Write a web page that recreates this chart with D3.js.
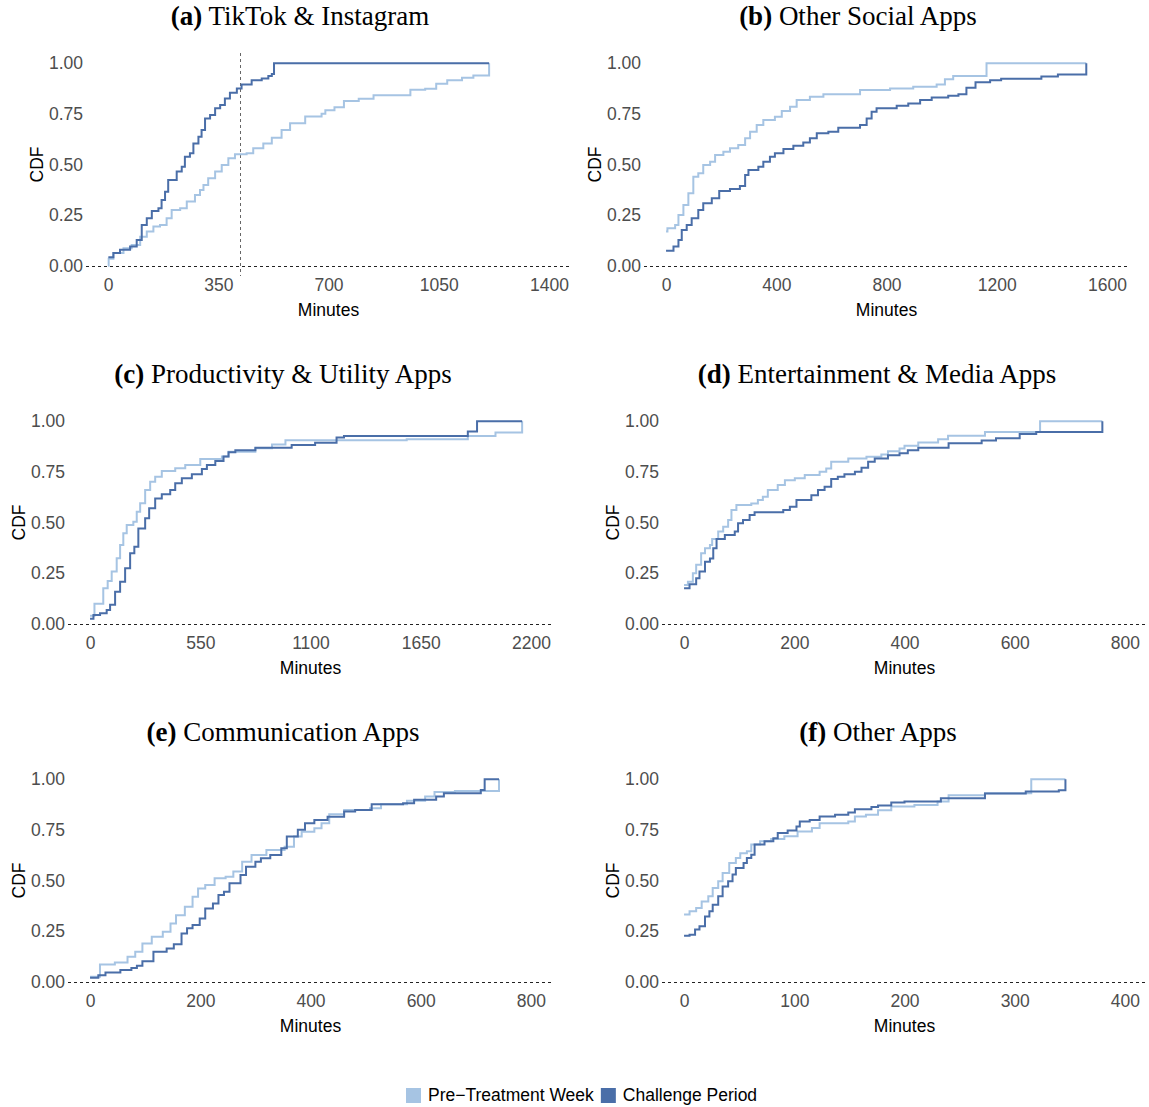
<!DOCTYPE html>
<html>
<head>
<meta charset="utf-8">
<script src="https://cdn.jsdelivr.net/npm/d3@7"></script>
<style>
  body { margin: 0; background: #fff; }
  svg { display: block; }
</style>
</head>
<body>
<svg id="chart" width="1149" height="1107"></svg>
<script>
// ECDF step points: [minutes, cdf] (value holds from that minute on)
var tiktokPre = [[0, 0], [2, 0.035], [17, 0.063], [49, 0.087], [75, 0.103], [102, 0.144], [123, 0.169], [144, 0.194],
    [165, 0.202], [186, 0.235], [202, 0.276], [229, 0.284], [250, 0.317], [276, 0.35], [292, 0.374], [303, 0.399],
    [318, 0.432], [340, 0.465], [361, 0.498], [382, 0.531], [403, 0.55], [440, 0.555], [461, 0.58], [493, 0.604],
    [520, 0.632], [551, 0.67], [578, 0.703], [626, 0.737], [678, 0.75], [690, 0.767], [719, 0.783], [749, 0.813],
    [796, 0.824], [843, 0.841], [960, 0.869], [1007, 0.874], [1042, 0.898], [1077, 0.915], [1124, 0.928],
    [1160, 0.939], [1210, 1.0]];
var tiktokChallenge = [[1, 0.043], [17, 0.063], [38, 0.079], [70, 0.095], [91, 0.128], [107, 0.202], [123, 0.235],
    [139, 0.271], [160, 0.284], [170, 0.325], [181, 0.366], [191, 0.424], [218, 0.465], [234, 0.489], [244, 0.538],
    [260, 0.555], [271, 0.604], [287, 0.637], [297, 0.67], [308, 0.727], [324, 0.744], [340, 0.777], [356, 0.793],
    [371, 0.826], [387, 0.854], [409, 0.875], [424, 0.895], [456, 0.916], [488, 0.924], [509, 0.937], [520, 0.946],
    [527, 1.0], [1210, 1.0]];

var socialPre = [[0, 0.17], [5, 0.185], [33, 0.202], [45, 0.251], [63, 0.30], [81, 0.358], [99, 0.44], [117, 0.457],
    [135, 0.497], [160, 0.514], [178, 0.547], [208, 0.563], [232, 0.58], [262, 0.596], [287, 0.629], [305, 0.662],
    [329, 0.695], [353, 0.719], [395, 0.736], [420, 0.764], [450, 0.785], [474, 0.818], [522, 0.834], [571, 0.847],
    [704, 0.867], [813, 0.875], [897, 0.883], [982, 0.895], [1012, 0.921], [1042, 0.937], [1163, 1.0], [1525, 1.0]];
var socialChallenge = [[0, 0.075], [27, 0.095], [45, 0.128], [57, 0.177], [75, 0.202], [93, 0.235], [117, 0.276],
    [135, 0.309], [166, 0.333], [193, 0.369], [232, 0.379], [268, 0.394], [287, 0.448], [299, 0.473], [335, 0.489],
    [353, 0.514], [377, 0.538], [395, 0.555], [426, 0.576], [462, 0.593], [498, 0.609], [522, 0.629], [547, 0.654],
    [589, 0.662], [625, 0.681], [704, 0.695], [728, 0.727], [746, 0.76], [764, 0.777], [837, 0.79], [879, 0.801],
    [922, 0.818], [964, 0.831], [1024, 0.839], [1061, 0.847], [1090, 0.878], [1123, 0.906], [1176, 0.915],
    [1216, 0.923], [1362, 0.934], [1422, 0.944], [1525, 1.0]];

var productivityPre = [[0, 0.04], [22, 0.099], [66, 0.176], [88, 0.212], [108, 0.258], [133, 0.324], [150, 0.389],
    [166, 0.447], [183, 0.488], [216, 0.504], [233, 0.553], [250, 0.595], [275, 0.66], [300, 0.701], [325, 0.726],
    [358, 0.754], [425, 0.767], [475, 0.784], [550, 0.813], [658, 0.825], [691, 0.849], [825, 0.866], [908, 0.885],
    [975, 0.906], [1580, 0.911], [1885, 0.927], [2023, 0.944], [2156, 1.0]];
var productivityChallenge = [[0, 0.025], [17, 0.044], [50, 0.052], [83, 0.069], [100, 0.094], [125, 0.159],
    [150, 0.208], [175, 0.274], [200, 0.348], [221, 0.381], [241, 0.471], [275, 0.521], [295, 0.57], [325, 0.619],
    [358, 0.639], [400, 0.66], [425, 0.693], [458, 0.718], [508, 0.738], [558, 0.764], [583, 0.784], [625, 0.803],
    [666, 0.825], [691, 0.846], [725, 0.857], [825, 0.869], [1006, 0.882], [1123, 0.894], [1230, 0.919],
    [1267, 0.927], [1885, 0.949], [1931, 1.0], [2156, 1.0]];

var mediaPre = [[0, 0.192], [7, 0.208], [16, 0.25], [22, 0.291], [31, 0.348], [38, 0.373], [47, 0.389], [51, 0.419],
    [62, 0.455], [71, 0.479], [80, 0.512], [86, 0.562], [95, 0.586], [122, 0.594], [134, 0.611], [143, 0.627],
    [152, 0.66], [170, 0.685], [183, 0.709], [201, 0.718], [219, 0.734], [246, 0.75], [258, 0.766], [267, 0.80],
    [298, 0.816], [331, 0.824], [358, 0.836], [370, 0.852], [391, 0.865], [400, 0.878], [425, 0.895], [461, 0.911],
    [479, 0.928], [546, 0.947], [646, 1.0], [759, 1.0]];
var mediaChallenge = [[0, 0.176], [10, 0.195], [22, 0.225], [28, 0.258], [38, 0.307], [47, 0.323], [53, 0.373],
    [59, 0.419], [74, 0.438], [92, 0.455], [98, 0.496], [107, 0.512], [119, 0.537], [128, 0.55], [180, 0.562],
    [192, 0.578], [204, 0.611], [231, 0.635], [243, 0.66], [255, 0.676], [267, 0.714], [279, 0.726], [291, 0.738],
    [310, 0.75], [322, 0.77], [334, 0.80], [346, 0.816], [370, 0.832], [391, 0.841], [406, 0.857], [425, 0.869],
    [480, 0.891], [540, 0.904], [566, 0.916], [609, 0.937], [639, 0.947], [759, 1.0]];

var commPre = [[0, 0.025], [18, 0.086], [45, 0.096], [68, 0.124], [82, 0.148], [95, 0.189], [112, 0.222],
    [132, 0.247], [146, 0.288], [156, 0.329], [172, 0.371], [186, 0.42], [196, 0.461], [209, 0.478], [226, 0.511],
    [246, 0.519], [260, 0.544], [276, 0.593], [293, 0.626], [320, 0.651], [353, 0.667], [370, 0.717], [384, 0.741],
    [407, 0.758], [420, 0.783], [434, 0.827], [461, 0.848], [508, 0.857], [528, 0.876], [575, 0.893], [608, 0.914],
    [625, 0.936], [662, 0.942], [742, 1.0]];
var commChallenge = [[0, 0.02], [15, 0.033], [28, 0.046], [55, 0.058], [75, 0.069], [85, 0.079], [95, 0.102],
    [115, 0.148], [139, 0.165], [152, 0.185], [166, 0.239], [176, 0.264], [186, 0.28], [199, 0.313], [209, 0.362],
    [223, 0.387], [233, 0.428], [243, 0.445], [253, 0.486], [273, 0.527], [283, 0.568], [300, 0.593], [310, 0.61],
    [327, 0.626], [347, 0.659], [357, 0.717], [377, 0.75], [390, 0.783], [407, 0.799], [431, 0.815], [461, 0.84],
    [481, 0.848], [511, 0.876], [568, 0.881], [588, 0.898], [628, 0.914], [642, 0.931], [709, 0.947], [716, 1.0],
    [742, 1.0]];

var otherPre = [[0, 0.332], [5, 0.348], [11, 0.364], [16, 0.397], [22, 0.422], [26, 0.463], [31, 0.496],
    [35, 0.537], [41, 0.586], [47, 0.611], [51, 0.635], [57, 0.644], [61, 0.677], [69, 0.693], [79, 0.705],
    [91, 0.718], [103, 0.742], [116, 0.759], [123, 0.783], [149, 0.791], [155, 0.816], [165, 0.824], [176, 0.846],
    [188, 0.865], [209, 0.873], [230, 0.89], [240, 0.921], [273, 0.93], [315, 1.0], [346, 1.0]];
var otherChallenge = [[0, 0.228], [5, 0.233], [10, 0.258], [14, 0.274], [19, 0.323], [23, 0.348], [26, 0.381],
    [31, 0.422], [35, 0.471], [40, 0.496], [44, 0.529], [47, 0.562], [54, 0.586], [57, 0.611], [61, 0.627],
    [64, 0.677], [73, 0.693], [81, 0.709], [85, 0.734], [94, 0.747], [102, 0.766], [105, 0.791], [114, 0.799],
    [123, 0.816], [137, 0.824], [149, 0.836], [155, 0.852], [170, 0.862], [176, 0.87], [188, 0.885], [200, 0.89],
    [233, 0.906], [273, 0.929], [310, 0.939], [340, 0.945], [346, 1.0]];

var tags = ['(a)', '(b)', '(c)', '(d)', '(e)', '(f)'];
var titles = ['TikTok & Instagram', 'Other Social Apps', 'Productivity & Utility Apps',
    'Entertainment & Media Apps', 'Communication Apps', 'Other Apps'];
var xTickMax = [1400, 1600, 2200, 800, 800, 400];
var xTickStep = [350, 400, 550, 200, 200, 100];
var yTicks = [0, 0.25, 0.5, 0.75, 1];
var seriesNames = ['Pre\u2212Treatment Week', 'Challenge Period'];
var cutoffTikTok = 420;

var colors = ['#a6c4e3', '#4a6ea8'];

// layout of the 3x2 grid (pixel positions of each panel)
var panelW = 485, panelH = 223;
var layout = [
    {left: 86, top: 53, titleX: 300, titleY: 25},
    {left: 644, top: 53, titleX: 858, titleY: 25},
    {left: 68, top: 411, titleX: 283, titleY: 383},
    {left: 662, top: 411, titleX: 877, titleY: 383},
    {left: 68, top: 769, titleX: 283, titleY: 741},
    {left: 662, top: 769, titleX: 878, titleY: 741}
];
var seriesByPanel = [
    [tiktokPre, tiktokChallenge],
    [socialPre, socialChallenge],
    [productivityPre, productivityChallenge],
    [mediaPre, mediaChallenge],
    [commPre, commChallenge],
    [otherPre, otherChallenge]
];

var svg = d3.select('#chart');
var sans = 'Liberation Sans, Arial, sans-serif';
var serif = 'Liberation Serif, Times New Roman, serif';

layout.forEach(function (pos, i) {
    var xmax = xTickMax[i];
    var x = d3.scaleLinear()
        .domain([-0.05 * xmax, 1.05 * xmax])
        .range([pos.left, pos.left + panelW]);
    var y = d3.scaleLinear()
        .domain([-0.05, 1.05])
        .range([pos.top + panelH, pos.top]);

    var g = svg.append('g').attr('class', 'panel');

    // title
    var title = g.append('text')
        .attr('x', pos.titleX)
        .attr('y', pos.titleY)
        .attr('text-anchor', 'middle')
        .style('font-family', serif)
        .style('font-size', '27px')
        .attr('fill', '#000');
    title.append('tspan').style('font-weight', 'bold').text(tags[i]);
    title.append('tspan').text(' ' + titles[i]);

    // y axis labels
    var yAxis = d3.axisLeft(y).tickValues(yTicks).tickSize(0).tickPadding(3)
        .tickFormat(d3.format('.2f'));
    g.append('g')
        .attr('transform', 'translate(' + pos.left + ',0)')
        .call(yAxis)
        .call(function (sel) {
            sel.select('.domain').remove();
            sel.selectAll('text')
                .style('font-family', sans)
                .style('font-size', '17.5px')
                .attr('fill', '#4d4d4d');
        });

    // x axis labels
    var xAxis = d3.axisBottom(x).tickValues(d3.range(0, xmax + 1, xTickStep[i])).tickSize(0).tickPadding(3)
        .tickFormat(d3.format('d'));
    g.append('g')
        .attr('transform', 'translate(0,' + (pos.top + panelH) + ')')
        .call(xAxis)
        .call(function (sel) {
            sel.select('.domain').remove();
            sel.selectAll('text')
                .style('font-family', sans)
                .style('font-size', '17.5px')
                .attr('fill', '#4d4d4d');
        });

    g.append('text')
        .attr('x', pos.left + panelW / 2)
        .attr('y', pos.top + panelH + 40)
        .attr('text-anchor', 'middle')
        .style('font-family', sans)
        .style('font-size', '17.5px')
        .text('Minutes');

    g.append('text')
        .attr('transform', 'translate(' + (pos.left - 43) + ',' + (pos.top + panelH / 2) + ') rotate(-90)')
        .attr('text-anchor', 'middle')
        .style('font-family', sans)
        .style('font-size', '17.5px')
        .text('CDF');

    // dashed zero line
    g.append('line')
        .attr('x1', pos.left).attr('x2', pos.left + panelW)
        .attr('y1', Math.round(y(0)) + 0.5).attr('y2', Math.round(y(0)) + 0.5)
        .attr('stroke', '#222')
        .attr('stroke-width', 1)
        .attr('stroke-dasharray', '3,3');

    // reference line for TikTok & Instagram
    if (i === 0) {
        var cx = Math.round(x(cutoffTikTok)) + 0.5;
        g.append('line')
            .attr('x1', cx).attr('x2', cx)
            .attr('y1', pos.top).attr('y2', pos.top + panelH)
            .attr('stroke', '#666')
            .attr('stroke-width', 1)
            .attr('stroke-dasharray', '3,3');
    }

    var line = d3.line()
        .curve(d3.curveStepAfter)
        .x(function (d) { return x(d[0]); })
        .y(function (d) { return y(d[1]); });

    seriesByPanel[i].forEach(function (data, s) {
        g.append('path')
            .datum(data)
            .attr('d', line)
            .attr('fill', 'none')
            .attr('stroke', colors[s])
            .attr('stroke-width', 2);
    });
});

// legend
var legend = svg.append('g').attr('class', 'legend');
var lx = 406;
seriesNames.forEach(function (name, s) {
    legend.append('rect')
        .attr('x', lx).attr('y', 1088)
        .attr('width', 15).attr('height', 15)
        .attr('fill', colors[s]);
    var t = legend.append('text')
        .attr('x', lx + 22)
        .attr('y', 1101)
        .style('font-family', sans)
        .style('font-size', '17.5px')
        .text(name);
    lx = lx + 22 + t.node().getComputedTextLength() + 7;
});
</script>
</body>
</html>
